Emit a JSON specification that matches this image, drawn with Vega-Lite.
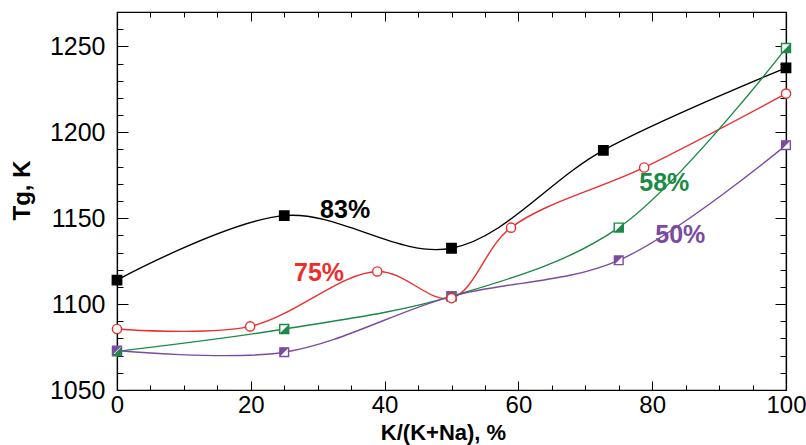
{
  "$schema": "https://vega.github.io/schema/vega-lite/v6.json",
  "width": 669,
  "height": 378,
  "autosize": "none",
  "padding": {"left": 117, "top": 12, "right": 20, "bottom": 55},
  "background": "white",
  "config": {
    "view": {"stroke": "black", "strokeWidth": 1.2},
    "axis": {
      "grid": false,
      "domainColor": "black",
      "domainWidth": 1.2,
      "tickColor": "black",
      "tickWidth": 1,
      "labelFont": "Liberation Sans",
      "labelFontSize": 25,
      "labelColor": "black",
      "titleFont": "Liberation Sans",
      "titleFontSize": 24,
      "titleFontWeight": "bold",
      "titleColor": "black"
    }
  },
  "datasets": {
    "pts": [
      {"series": "83%", "x": 0, "y": 1114},
      {"series": "83%", "x": 25, "y": 1151.5},
      {"series": "83%", "x": 50, "y": 1132.5},
      {"series": "83%", "x": 72.7, "y": 1189.5},
      {"series": "83%", "x": 100, "y": 1237.5},
      {"series": "75%", "x": 0, "y": 1085.5},
      {"series": "75%", "x": 19.9, "y": 1087},
      {"series": "75%", "x": 38.9, "y": 1119},
      {"series": "75%", "x": 50, "y": 1103.5},
      {"series": "75%", "x": 58.9, "y": 1144.5},
      {"series": "75%", "x": 78.8, "y": 1179.5},
      {"series": "75%", "x": 100, "y": 1222.5},
      {"series": "58%", "x": 0, "y": 1072.5},
      {"series": "58%", "x": 25, "y": 1085.5},
      {"series": "58%", "x": 50, "y": 1104.5},
      {"series": "58%", "x": 75, "y": 1144.5},
      {"series": "58%", "x": 100, "y": 1249},
      {"series": "50%", "x": 0, "y": 1073},
      {"series": "50%", "x": 25, "y": 1072},
      {"series": "50%", "x": 50, "y": 1104.5},
      {"series": "50%", "x": 75, "y": 1125.5},
      {"series": "50%", "x": 100, "y": 1192.5}
    ],
    "labels": [
      {"series": "83%", "x": 34.1, "y": 1155, "text": "83%"},
      {"series": "75%", "x": 30.2, "y": 1118.3, "text": "75%"},
      {"series": "58%", "x": 81.8, "y": 1170.5, "text": "58%"},
      {"series": "50%", "x": 84.2, "y": 1140, "text": "50%"}
    ]
  },
  "resolve": {"axis": {"x": "independent", "y": "independent"}},
  "layer": [
    {
      "data": {"name": "pts"},
      "mark": {"type": "line", "interpolate": "catmull-rom", "strokeWidth": 1.4},
      "encoding": {
        "x": {
          "field": "x", "type": "quantitative",
          "scale": {"domain": [0, 100], "nice": false, "zero": false},
          "axis": {
            "orient": "bottom",
            "title": "K/(K+Na), %",
            "values": [0,5,10,15,20,25,30,35,40,45,50,55,60,65,70,75,80,85,90,95,100],
            "labelExpr": "datum.value % 20 === 0 ? datum.label : ''",
            "tickSize": {"condition": {"test": "datum.value % 20 === 0", "value": -9}, "value": -5},
            "labelPadding": 12,
            "labelFontSize": 24,
            "titleFontSize": 22,
            "titleBaseline": "alphabetic",
            "titleX": 326,
            "titleY": 49,
            "labelFlush": false
          }
        },
        "y": {
          "field": "y", "type": "quantitative",
          "scale": {"domain": [1050, 1270], "nice": false, "zero": false},
          "axis": {
            "orient": "left",
            "title": "Tg, K",
            "format": "d",
            "values": [1050,1060,1070,1080,1090,1100,1110,1120,1130,1140,1150,1160,1170,1180,1190,1200,1210,1220,1230,1240,1250,1260,1270],
            "labelExpr": "datum.value % 50 === 0 ? datum.label : ''",
            "tickSize": {"condition": {"test": "datum.value % 50 === 0", "value": -11}, "value": -6},
            "labelPadding": 23,
            "titleBaseline": "alphabetic",
            "titleX": -88,
            "titleY": 178
          }
        },
        "color": {
          "field": "series", "type": "nominal",
          "scale": {"domain": ["83%", "75%", "58%", "50%"], "range": ["#000000", "#ee2d2d", "#1b8a46", "#7a4b9f"]},
          "legend": null
        }
      }
    },
    {
      "data": {"name": "pts"},
      "transform": [{"filter": "datum.series !== '75%'"}],
      "mark": {"type": "point", "filled": false, "strokeWidth": 1.4, "opacity": 1},
      "encoding": {
        "x": {"field": "x", "type": "quantitative", "axis": null},
        "y": {"field": "y", "type": "quantitative", "axis": null},
        "shape": {
          "field": "series", "type": "nominal",
          "scale": {"domain": ["83%", "58%", "50%"], "range": ["square", "square", "square"]},
          "legend": null
        },
        "size": {
          "field": "series", "type": "nominal",
          "scale": {"domain": ["83%", "58%", "50%"], "range": [88, 75, 75]},
          "legend": null
        },
        "fill": {
          "field": "series", "type": "nominal",
          "scale": {"domain": ["83%", "58%", "50%"], "range": ["#000000", "#ffffff", "#ffffff"]},
          "legend": null
        },
        "stroke": {
          "field": "series", "type": "nominal",
          "scale": {"domain": ["83%", "58%", "50%"], "range": ["#000000", "#1b8a46", "#7a4b9f"]},
          "legend": null
        }
      }
    },
    {
      "data": {"name": "pts"},
      "transform": [{"filter": "datum.series === '58%'"}],
      "mark": {"type": "point", "filled": true, "opacity": 1, "size": 75, "strokeWidth": 0, "color": "#1b8a46", "shape": "M 1 -1 L 1 1 L -1 1 Z"},
      "encoding": {
        "x": {"field": "x", "type": "quantitative", "axis": null},
        "y": {"field": "y", "type": "quantitative", "axis": null}
      }
    },
    {
      "data": {"name": "pts"},
      "transform": [{"filter": "datum.series === '50%'"}],
      "mark": {"type": "point", "filled": true, "opacity": 1, "size": 75, "strokeWidth": 0, "color": "#7a4b9f", "shape": "M -1 -1 L 1 -1 L -1 1 Z"},
      "encoding": {
        "x": {"field": "x", "type": "quantitative", "axis": null},
        "y": {"field": "y", "type": "quantitative", "axis": null}
      }
    },
    {
      "data": {"name": "pts"},
      "transform": [{"filter": "datum.series === '75%'"}],
      "mark": {"type": "point", "shape": "circle", "size": 85, "filled": false, "fill": "#ffffff", "stroke": "#ee2d2d", "strokeWidth": 1.4, "opacity": 1},
      "encoding": {
        "x": {"field": "x", "type": "quantitative", "axis": null},
        "y": {"field": "y", "type": "quantitative", "axis": null}
      }
    },
    {
      "data": {"name": "labels"},
      "mark": {"type": "text", "font": "Liberation Sans", "fontSize": 25, "fontWeight": "bold", "baseline": "middle", "align": "center"},
      "encoding": {
        "x": {
          "field": "x", "type": "quantitative",
          "scale": {"domain": [0, 100], "nice": false, "zero": false},
          "axis": {
            "orient": "top", "title": null,
            "values": [0,5,10,15,20,25,30,35,40,45,50,55,60,65,70,75,80,85,90,95,100],
            "labels": false,
            "tickSize": {"condition": {"test": "datum.value % 20 === 0", "value": -9}, "value": -5}
          }
        },
        "y": {
          "field": "y", "type": "quantitative",
          "scale": {"domain": [1050, 1270], "nice": false, "zero": false},
          "axis": {
            "orient": "right", "title": null,
            "values": [1050,1060,1070,1080,1090,1100,1110,1120,1130,1140,1150,1160,1170,1180,1190,1200,1210,1220,1230,1240,1250,1260,1270],
            "labels": false,
            "tickSize": {"condition": {"test": "datum.value % 50 === 0", "value": -11}, "value": -6}
          }
        },
        "text": {"field": "text", "type": "nominal"},
        "color": {"field": "series", "type": "nominal", "legend": null}
      }
    }
  ]
}
